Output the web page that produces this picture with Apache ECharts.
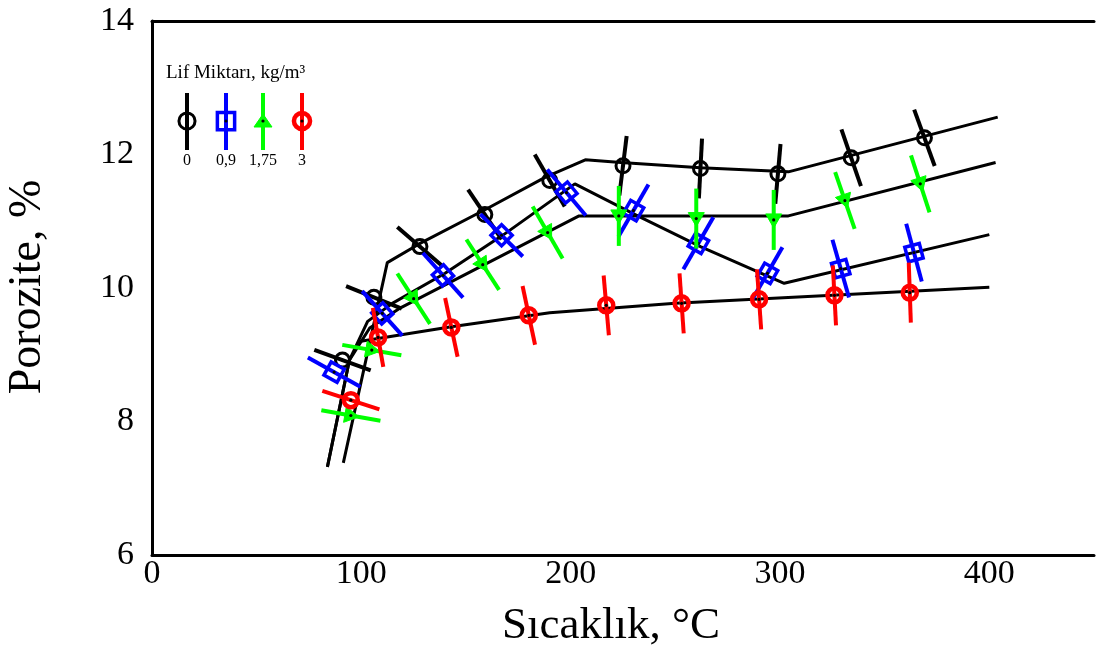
<!DOCTYPE html>
<html>
<head>
<meta charset="utf-8">
<script src="https://cdn.jsdelivr.net/npm/echarts@6/dist/echarts.min.js"></script>
<style>
html,body{margin:0;padding:0;background:#fff;}
#chart{width:1097px;height:654px;}
</style>
</head>
<body>
<div id="chart"></div>
<script>
// ---- data ----
const seriesNames = ['0', '0,9', '1,75', '3'];
const legendTitle = 'Lif Miktarı, kg/m³';
const xTitle = 'Sıcaklık, °C';
const yTitle = 'Porozite, %';

// measured points (temperature, porosity)
const x0 = [91, 106, 128, 159, 190, 225, 262, 299, 334, 369];
const y0 = [8.92, 9.86, 10.62, 11.10, 11.61, 11.83, 11.79, 11.71, 11.95, 12.25];
const x1 = [87, 110, 139, 167, 198, 230, 261, 294, 329, 364];
const y1 = [8.74, 9.62, 10.19, 10.79, 11.43, 11.16, 10.67, 10.22, 10.29, 10.53];
const x2 = [95, 105, 125, 158, 189, 223, 260, 297, 331, 367];
const y2 = [8.09, 9.07, 9.84, 10.35, 10.83, 11.08, 11.04, 11.02, 11.31, 11.56];
const x3 = [95, 108, 143, 180, 217, 253, 290, 326, 362];
const y3 = [8.32, 9.26, 9.41, 9.59, 9.74, 9.77, 9.83, 9.89, 9.93];

// fitted curves (black lines)
const fitX0 = [91.4, 112.4, 127.6, 159.5, 188, 207, 224, 262, 304, 404];
const fitY0 = [7.38, 10.38, 10.66, 11.18, 11.66, 11.92, 11.88, 11.80, 11.74, 12.56];
const fitX1 = [83.8, 94.3, 103, 114.8, 140, 168, 202, 232, 262, 302, 400];
const fitY1 = [7.32, 8.92, 9.50, 9.77, 10.22, 10.80, 11.56, 11.08, 10.62, 10.07, 10.80];
const fitX2 = [83.8, 94.3, 104, 118, 204, 304, 403];
const fitY2 = [7.32, 8.92, 9.40, 9.69, 11.08, 11.08, 11.88];
const fitX3 = [99, 143, 190, 250, 400];
const fitY3 = [9.20, 9.42, 9.63, 9.77, 10.01];

const xTicks = [0, 100, 200, 300, 400];
const yTicks = [6, 8, 10, 12, 14];

// ---- style (error-bar tilt in degrees, drawing only) ----
const tilt0 = [20, 22, 41, 56, 60, 97, 93, 95, 71, 70];
const tilt1 = [29, 48, 48, 45, 50, 120, 120, 120, 74, 75];
const tilt2 = [10, 10, 57, 57, 60, 90, 90, 90, 71, 72];
const tilt3 = [18, 80, 78, 78, 85, 86, 86, 87, 88];

const colors = ['#000000', '#0000ff', '#00ff00', '#ff0000'];
const kinds = ['circle', 'square', 'tri', 'ring'];
const FONT = '"Liberation Serif", "DejaVu Serif", serif';

function zip(a, b) { return a.map((v, i) => [v, b[i]]); }

function markerShapes(kind, color, cx, cy, phi, legend) {
  const out = [];
  const d = [Math.cos(phi), Math.sin(phi)];
  const n = [-Math.sin(phi), Math.cos(phi)];
  const P = (u, v) => [cx + u * n[0] + v * d[0], cy + u * n[1] + v * d[1]];
  const s = legend ? 1.15 : 1;
  if (kind === 'circle') {
    out.push({type: 'circle', shape: {cx, cy, r: 7 * s}, style: {fill: 'none', stroke: color, lineWidth: 3}});
  } else if (kind === 'square') {
    const h = 7.5 * s;
    out.push({type: 'polygon', shape: {points: [P(-h, -h), P(h, -h), P(h, h), P(-h, h)]}, style: {fill: 'none', stroke: color, lineWidth: 3.5}});
  } else if (kind === 'tri') {
    const pts = legend ? [P(-9, 6), P(9, 6), P(0, -7)] : [P(-8, -6), P(8, -6), P(0, 8)];
    out.push({type: 'polygon', shape: {points: pts}, style: {fill: color, stroke: color, lineWidth: 1}});
  } else {
    out.push({type: 'circle', shape: {cx, cy, r: 7 * s}, style: {fill: 'none', stroke: color, lineWidth: 4.5}});
  }
  out.push({type: 'circle', shape: {cx, cy, r: 1.6}, style: {fill: '#000'}});
  return out;
}

function makeRender(kind, color, tilts) {
  return function (params, api) {
    const p = api.coord([api.value(0), api.value(1)]);
    const phi = tilts[params.dataIndex] * Math.PI / 180;
    const L = 30;
    const dx = Math.cos(phi) * L, dy = Math.sin(phi) * L;
    const children = [{
      type: 'line',
      shape: {x1: p[0] - dx, y1: p[1] - dy, x2: p[0] + dx, y2: p[1] + dy},
      style: {stroke: color, lineWidth: 4}
    }].concat(markerShapes(kind, color, p[0], p[1], phi, false));
    return {type: 'group', children};
  };
}

const pts = [zip(x0, y0), zip(x1, y1), zip(x2, y2), zip(x3, y3)];
const fits = [zip(fitX0, fitY0), zip(fitX1, fitY1), zip(fitX2, fitY2), zip(fitX3, fitY3)];
const tilts = [tilt0, tilt1, tilt2, tilt3];

const series = [];
fits.forEach((f, i) => {
  series.push({
    type: 'line', name: 'fit' + i, data: f, symbol: 'none', smooth: false,
    lineStyle: {color: '#000', width: 3}, z: 2, silent: true, animation: false
  });
});
pts.forEach((p, i) => {
  series.push({
    type: 'custom', name: seriesNames[i], data: p, z: 3 + i,
    renderItem: makeRender(kinds[i], colors[i], tilts[i]), animation: false
  });
});

// legend built from names
const legendX = [187, 226, 263, 302];
const graphic = [
  {type: 'text', x: 166, y: 64, style: {text: legendTitle, font: '19px ' + FONT, fill: '#000'}},
  {type: 'text', x: 611, y: 604, style: {text: xTitle, font: '45px ' + FONT, fill: '#000', align: 'center'}},
  {type: 'text', x: 5, y: 287, rotation: Math.PI / 2, style: {text: yTitle, font: '46px ' + FONT, fill: '#000', align: 'center', verticalAlign: 'top'}}
];
seriesNames.forEach((nm, i) => {
  const cx = legendX[i];
  graphic.push({type: 'line', shape: {x1: cx, y1: 93, x2: cx, y2: 150}, style: {stroke: colors[i], lineWidth: 4}});
  markerShapes(kinds[i], colors[i], cx, 121, Math.PI / 2, true).forEach(g => graphic.push(g));
  graphic.push({type: 'text', x: cx, y: 153, style: {text: nm, font: '16px ' + FONT, fill: '#000', align: 'center'}});
});

const chart = echarts.init(document.getElementById('chart'));
chart.setOption({
  animation: false,
  backgroundColor: '#fff',
  grid: {left: 152, right: 0, top: 21, bottom: 99},
  xAxis: [{
    type: 'value', min: 0, max: 450, interval: 100,
    axisLine: {show: true, lineStyle: {color: '#000', width: 3}},
    axisTick: {show: false}, splitLine: {show: false},
    axisLabel: {
      color: '#000', fontFamily: FONT, fontSize: 34, margin: 2,
      formatter: v => (xTicks.indexOf(v) >= 0 ? String(v) : '')
    }
  }, {
    type: 'value', position: 'top', min: 0, max: 450,
    axisLine: {show: true, onZero: false, lineStyle: {color: '#000', width: 3}},
    axisTick: {show: false}, axisLabel: {show: false}, splitLine: {show: false}
  }],
  yAxis: {
    type: 'value', min: 6, max: 14, interval: 2,
    axisLine: {show: true, lineStyle: {color: '#000', width: 3}},
    axisTick: {show: false}, splitLine: {show: false},
    axisLabel: {
      color: '#000', fontFamily: FONT, fontSize: 34, margin: 18,
      formatter: v => (yTicks.indexOf(v) >= 0 ? String(v) : '')
    }
  },
  graphic: graphic,
  series: series
});
</script>
</body>
</html>
